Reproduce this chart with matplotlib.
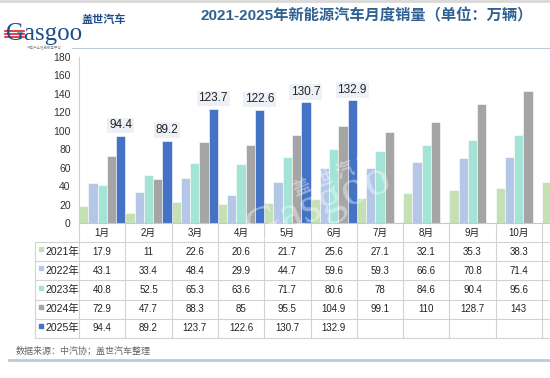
import numpy as np
import matplotlib
matplotlib.use('Agg')
import matplotlib.pyplot as plt

plt.rcParams['font.family'] = ['Liberation Sans', 'Noto Sans CJK SC', 'DejaVu Sans']

months = ['1月', '2月', '3月', '4月', '5月', '6月', '7月', '8月', '9月', '10月', '11月']
years = ['2021年', '2022年', '2023年', '2024年', '2025年']
sales_2021 = [17.9, 11, 22.6, 20.6, 21.7, 25.6, 27.1, 32.1, 35.3, 38.3, 45]
sales_2022 = [43.1, 33.4, 48.4, 29.9, 44.7, 59.6, 59.3, 66.6, 70.8, 71.4, None]
sales_2023 = [40.8, 52.5, 65.3, 63.6, 71.7, 80.6, 78, 84.6, 90.4, 95.6, None]
sales_2024 = [72.9, 47.7, 88.3, 85, 95.5, 104.9, 99.1, 110, 128.7, 143, None]
sales_2025 = [94.4, 89.2, 123.7, 122.6, 130.7, 132.9, None, None, None, None, None]
series = [sales_2021, sales_2022, sales_2023, sales_2024, sales_2025]
colors = ['#c5e0b4', '#b4c7e7', '#a3e4d7', '#a5a5a5', '#4472c4']

W, H = 550, 378
fig = plt.figure(figsize=(W / 100, H / 100), dpi=100)

# plot area in pixels
ax_left, ax_right, ax_top, ax_bot = 79, 550, 57, 223
cat_w = 46.3
ax = fig.add_axes([ax_left / W, 1 - ax_bot / H, (ax_right - ax_left) / W, (ax_bot - ax_top) / H])
ax.set_xlim(-0.5, -0.5 + (ax_right - ax_left) / cat_w)
ax.set_ylim(0, 180)
x_max = ax.get_xlim()[1]

x = np.arange(len(months))
bw = 0.2
for i, (vals, c) in enumerate(zip(series, colors)):
    v = np.array([np.nan if a is None else a for a in vals], dtype=float)
    ax.bar(x + (i - 2) * bw, v, width=bw, color=c, edgecolor='white', linewidth=0.4, zorder=2)

# data labels for 2025
for xi, v in zip(x, sales_2025):
    if v is None:
        continue
    ax.text(xi + 2 * bw, v + 5, f'{v}', ha='center', va='bottom', fontsize=8.5, color='#222222',
            bbox=dict(boxstyle='square,pad=0.15', facecolor='#edf1f7', edgecolor='none'), zorder=4)

ax.set_yticks(range(0, 181, 20))
ax.tick_params(axis='y', length=0, labelsize=7.5, colors='#333333', pad=6)
ax.set_xticks([])
for s in ['top', 'right']:
    ax.spines[s].set_visible(False)
ax.spines['left'].set_color('#d0d0d0')
ax.spines['bottom'].set_color('#c8c8c8')

# table below the plot
def ya(py):
    return (ax_bot - py) / (ax_bot - ax_top)

def xd(px):
    return -0.5 + (px - ax_left) / cat_w

trans = ax.get_xaxis_transform()
line_c = '#d2d2d2'
row_lines = [242, 261.2, 280.4, 299.6, 318.8, 338]
for py in row_lines:
    ax.plot([xd(35), xd(560)], [ya(py)] * 2, color=line_c, lw=0.8, transform=trans, clip_on=False)
for k in range(len(months) + 1):
    ax.plot([k - 0.5] * 2, [ya(223), ya(338)], color=line_c, lw=0.8, transform=trans, clip_on=False)
ax.plot([xd(35)] * 2, [ya(242), ya(338)], color=line_c, lw=0.8, transform=trans, clip_on=False)

for xi, m in zip(x, months):
    if xi + 0.3 > x_max:
        continue
    ax.text(xi, ya(233), m, ha='center', va='center', fontsize=7, color='#222222',
            transform=trans, clip_on=False)

for r, (yr, vals, c) in enumerate(zip(years, series, colors)):
    yc = (row_lines[r] + row_lines[r + 1]) / 2
    ax.plot([xd(41)], [ya(yc - 2.5)], marker='s', ms=3.2, color=c, transform=trans, clip_on=False)
    ax.text(xd(45.5), ya(yc), yr, ha='left', va='center', fontsize=7.5, color='#222222',
            transform=trans, clip_on=False)
    for xi, v in zip(x, vals):
        if v is None or xi + 0.3 > x_max:
            continue
        ax.text(xi, ya(yc), f'{v}', ha='center', va='center', fontsize=7, color='#222222',
                transform=trans, clip_on=False)

# watermark
fig.text(335 / W, 1 - 175 / H, '盖 世 汽 车', fontsize=13, color='white', alpha=0.4,
         rotation=22, ha='center', va='center', fontweight='bold', zorder=10)
fig.text(318 / W, 1 - 205 / H, 'Gasgoo', fontsize=36, color='white', alpha=0.4,
         rotation=22, ha='center', va='center', family='Liberation Serif', zorder=10)

# header: title and logo
fig.text(367 / W, 1 - 16 / H, '2021-2025年新能源汽车月度销量（单位：万辆）', fontsize=11,
         fontweight='bold', color='#2f6193', ha='center', va='center')
fig.add_artist(plt.Line2D([0, 1], [1 - 1 / H] * 2, color='#d8d8d8', lw=2))
fig.add_artist(plt.Line2D([72 / W, 1], [1 - 48 / H] * 2, color='#b9cde0', lw=0.8))
fig.text(82 / W, 1 - 20 / H, '盖世汽车', fontsize=8, fontweight='bold', color='#1f4e8c',
         ha='left', va='center')
fig.text(6 / W, 1 - 34 / H, 'Gasgoo', fontsize=18, color='#1f4e8c', ha='left', va='center',
         family='Liberation Serif')
for k in range(3):
    fig.add_artist(plt.Line2D([5 / W, 24 / W], [1 - (31 + 3 * k) / H] * 2, color='#d9262c', lw=1.2))
fig.text(44 / W, 1 - 48 / H, '汽车产业信息服务平台', fontsize=2.5, color='#888888',
         ha='center', va='center')

# footer
fig.text(16 / W, 1 - 351 / H, '数据来源：中汽协；盖世汽车整理', fontsize=6.5, color='#666666',
         ha='left', va='center')
fig.add_artist(plt.Line2D([9 / W, 1], [1 - 360 / H] * 2, color='#b7cce0', lw=2))

fig.savefig('out.png', dpi=100)
